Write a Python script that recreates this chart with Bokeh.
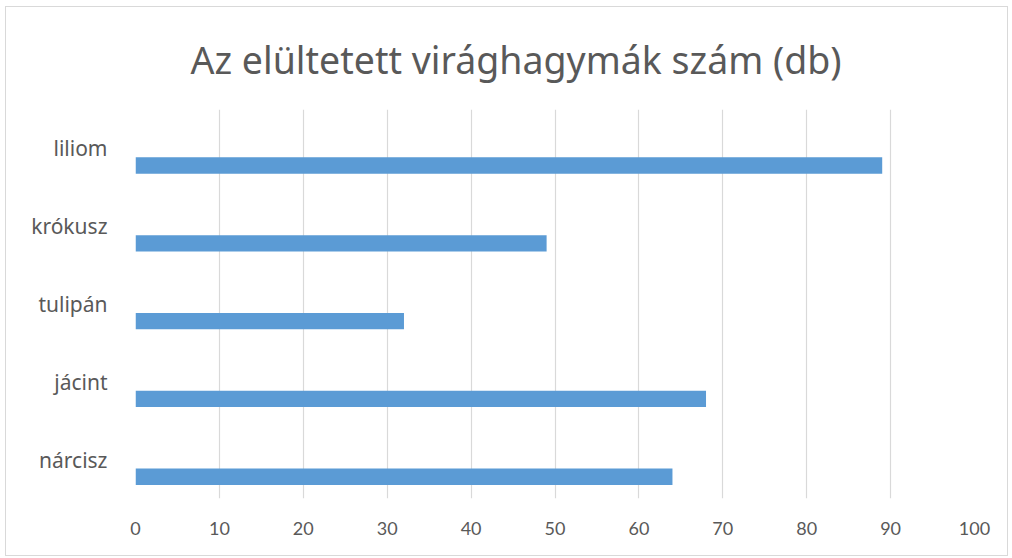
from bokeh.plotting import figure
from bokeh.models import ColumnDataSource, FixedTicker, Range1d, FactorRange
from bokeh.transform import dodge
from bokeh.embed import file_html
from bokeh.resources import INLINE

categories = ["nárcisz", "jácint", "tulipán", "krókusz", "liliom"]
values = [64, 68, 32, 49, 89]
x_ticks = [0, 10, 20, 30, 40, 50, 60, 70, 80, 90, 100]
title_text = "Az elültetett virághagymák szám (db)"

src = ColumnDataSource(data=dict(cat=categories, val=values))

p = figure(
    width=1003, height=550,
    y_range=FactorRange(*categories, range_padding=0),
    x_range=Range1d(0, 100),
    output_backend="svg", toolbar_location=None,
    min_border_left=129, min_border_right=35,
    min_border_top=101, min_border_bottom=59,
)
p.styles = {"border": "1px solid #d9d9d9", "margin-left": "5px", "margin-top": "6px"}

p.title.text = title_text
p.title.align = "left"
p.title.offset = 55
p.title.text_font = "Noto Sans"
p.title.text_font_size = "37.5px"
p.title.text_font_style = "normal"
p.title.text_color = "#595959"
p.title.standoff = 49

p.hbar(y=dodge("cat", -0.22, range=p.y_range), right="val", left=0, height=0.21,
       source=src, fill_color="#5b9bd5", line_color=None)

p.outline_line_color = None
p.ygrid.grid_line_color = None
p.xgrid.grid_line_color = "#d9d9d9"
p.xgrid.grid_line_width = 1.2
p.xaxis.ticker = FixedTicker(ticks=x_ticks)

p.xaxis.axis_line_color = None
p.xaxis.major_tick_line_color = None
p.xaxis.minor_tick_line_color = None
p.xaxis.major_label_text_font = "Lato"
p.xaxis.major_label_text_font_size = "18px"
p.xaxis.major_label_text_color = "#595959"
p.xaxis.major_label_standoff = 17

p.yaxis.axis_line_color = None
p.yaxis.major_tick_line_color = None
p.yaxis.minor_tick_line_color = None
p.yaxis.major_label_text_font = "Noto Sans"
p.yaxis.major_label_text_font_size = "21px"
p.yaxis.major_label_text_color = "#595959"
p.yaxis.major_label_standoff = 22

open("out.html", "w").write(file_html(p, INLINE))
